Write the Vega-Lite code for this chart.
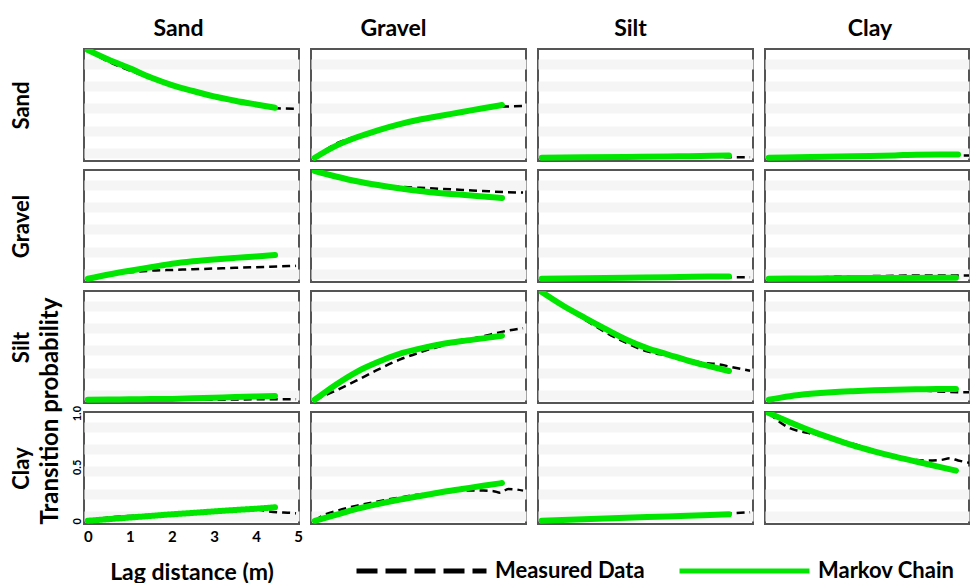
{
"$schema":"https://vega.github.io/schema/vega-lite/v6.json",
"background":"white",
"padding":{"left":9,"top":17,"right":0,"bottom":0},
"bounds":"flush",
"columns":4,
"spacing":{"row":9,"column":12},
"resolve":{"scale":{"x":"independent","y":"independent"}},
"config":{
 "font":"Lato",
 "view":{"stroke":"#555555","strokeWidth":2},
 "axis":{"labelFont":"Lato","titleFont":"Lato","titleFontWeight":"bold","titleFontSize":22,"titleColor":"#000000","labelColor":"#000000","labelFontWeight":"bold"},
 "title":{"font":"Lato","fontSize":23,"fontWeight":"bold","color":"#000000","anchor":"middle","frame":"group","offset":8}
},
"concat":[
{"width":215,"height":112,"title":{"text":"Sand","dx":-13},
 "encoding":{"x":{"field":"x","type":"quantitative","scale":{"domain":[-0.09,5.02],"nice":false,"zero":false},"axis":null},
  "y":{"field":"p","type":"quantitative","scale":{"domain":[-0.03,1.01],"nice":false,"zero":false},"axis":{"values":[0.045,0.25,0.46,0.665,0.87],"grid":true,"gridColor":"#f5f5f5","gridWidth":10,"labels":false,"ticks":false,"domain":false,"title":"Sand","titlePadding":51}}},
 "layer":[
  {"data":{"values":[{"x":0,"p":1},{"x":0.5,"p":0.89},{"x":1,"p":0.81},{"x":1.5,"p":0.735},{"x":2,"p":0.67},{"x":2.5,"p":0.62},{"x":3,"p":0.57},{"x":3.5,"p":0.53},{"x":4,"p":0.49},{"x":4.5,"p":0.46},{"x":4.95,"p":0.456}]},
   "mark":{"type":"line","color":"#000000","strokeWidth":2.5,"strokeDash":[8,5],"clip":true,"interpolate":"monotone"}},
  {"data":{"values":[{"x":0,"p":1},{"x":0.5,"p":0.91},{"x":1,"p":0.83},{"x":1.5,"p":0.745},{"x":2,"p":0.675},{"x":2.5,"p":0.62},{"x":3,"p":0.57},{"x":3.5,"p":0.53},{"x":4,"p":0.495},{"x":4.45,"p":0.465}]},
   "mark":{"type":"line","color":"#00e600","strokeWidth":6,"strokeCap":"round","clip":true,"interpolate":"monotone"}}
 ]},
{"width":215,"height":112,"title":{"text":"Gravel","dx":-25},
 "encoding":{"x":{"field":"x","type":"quantitative","scale":{"domain":[-0.09,5.02],"nice":false,"zero":false},"axis":null},
  "y":{"field":"p","type":"quantitative","scale":{"domain":[-0.03,1.01],"nice":false,"zero":false},"axis":{"values":[0.045,0.25,0.46,0.665,0.87],"grid":true,"gridColor":"#f5f5f5","gridWidth":10,"labels":false,"ticks":false,"domain":false,"title":null}}},
 "layer":[
  {"data":{"values":[{"x":0,"p":0},{"x":0.5,"p":0.13},{"x":1,"p":0.2},{"x":1.5,"p":0.26},{"x":2,"p":0.31},{"x":2.5,"p":0.355},{"x":3,"p":0.39},{"x":3.5,"p":0.425},{"x":4,"p":0.455},{"x":4.5,"p":0.475},{"x":4.95,"p":0.48}]},
   "mark":{"type":"line","color":"#000000","strokeWidth":2.5,"strokeDash":[8,5],"clip":true,"interpolate":"monotone"}},
  {"data":{"values":[{"x":0,"p":0},{"x":0.5,"p":0.11},{"x":1,"p":0.19},{"x":1.5,"p":0.255},{"x":2,"p":0.31},{"x":2.5,"p":0.355},{"x":3,"p":0.39},{"x":3.5,"p":0.425},{"x":4,"p":0.46},{"x":4.45,"p":0.49}]},
   "mark":{"type":"line","color":"#00e600","strokeWidth":6,"strokeCap":"round","clip":true,"interpolate":"monotone"}}
 ]},
{"width":215,"height":112,"title":{"text":"Silt","dx":-15},
 "encoding":{"x":{"field":"x","type":"quantitative","scale":{"domain":[-0.09,5.02],"nice":false,"zero":false},"axis":null},
  "y":{"field":"p","type":"quantitative","scale":{"domain":[-0.03,1.01],"nice":false,"zero":false},"axis":{"values":[0.045,0.25,0.46,0.665,0.87],"grid":true,"gridColor":"#f5f5f5","gridWidth":10,"labels":false,"ticks":false,"domain":false,"title":null}}},
 "layer":[
  {"data":{"values":[{"x":0,"p":0},{"x":1,"p":0.004},{"x":2,"p":0.008},{"x":3,"p":0.01},{"x":4,"p":0.012},{"x":4.5,"p":0.004},{"x":4.95,"p":0.004}]},
   "mark":{"type":"line","color":"#000000","strokeWidth":2.5,"strokeDash":[8,5],"clip":true,"interpolate":"monotone"}},
  {"data":{"values":[{"x":0,"p":0},{"x":1,"p":0.004},{"x":2,"p":0.008},{"x":3,"p":0.012},{"x":3.5,"p":0.015},{"x":4.45,"p":0.02}]},
   "mark":{"type":"line","color":"#00e600","strokeWidth":6,"strokeCap":"round","clip":true,"interpolate":"monotone"}}
 ]},
{"width":204,"height":112,"title":{"text":"Clay","dx":3},
 "encoding":{"x":{"field":"x","type":"quantitative","scale":{"domain":[-0.09,4.76],"nice":false,"zero":false},"axis":null},
  "y":{"field":"p","type":"quantitative","scale":{"domain":[-0.03,1.01],"nice":false,"zero":false},"axis":{"values":[0.045,0.25,0.46,0.665,0.87],"grid":true,"gridColor":"#f5f5f5","gridWidth":10,"labels":false,"ticks":false,"domain":false,"title":null}}},
 "layer":[
  {"data":{"values":[{"x":0,"p":0},{"x":1,"p":0.008},{"x":2,"p":0.015},{"x":3,"p":0.022},{"x":4,"p":0.028},{"x":4.5,"p":0.022},{"x":5,"p":0.022}]},
   "mark":{"type":"line","color":"#000000","strokeWidth":2.5,"strokeDash":[8,5],"clip":true,"interpolate":"monotone"}},
  {"data":{"values":[{"x":0,"p":0},{"x":1,"p":0.008},{"x":2,"p":0.015},{"x":3,"p":0.022},{"x":3.5,"p":0.028},{"x":4.5,"p":0.03}]},
   "mark":{"type":"line","color":"#00e600","strokeWidth":6,"strokeCap":"round","clip":true,"interpolate":"monotone"}}
 ]},
{"width":215,"height":112,
 "encoding":{"x":{"field":"x","type":"quantitative","scale":{"domain":[-0.09,5.02],"nice":false,"zero":false},"axis":null},
  "y":{"field":"p","type":"quantitative","scale":{"domain":[-0.03,1.01],"nice":false,"zero":false},"axis":{"values":[0.045,0.25,0.46,0.665,0.87],"grid":true,"gridColor":"#f5f5f5","gridWidth":10,"labels":false,"ticks":false,"domain":false,"title":"Gravel","titlePadding":51}}},
 "layer":[
  {"data":{"values":[{"x":0,"p":0},{"x":0.5,"p":0.035},{"x":1,"p":0.06},{"x":1.5,"p":0.075},{"x":2,"p":0.082},{"x":2.5,"p":0.088},{"x":3,"p":0.095},{"x":3.5,"p":0.102},{"x":4,"p":0.108},{"x":4.5,"p":0.114},{"x":4.95,"p":0.12}]},
   "mark":{"type":"line","color":"#000000","strokeWidth":2.5,"strokeDash":[8,5],"clip":true,"interpolate":"monotone"}},
  {"data":{"values":[{"x":0,"p":0},{"x":0.5,"p":0.04},{"x":1,"p":0.075},{"x":1.5,"p":0.107},{"x":2,"p":0.14},{"x":2.5,"p":0.163},{"x":3,"p":0.18},{"x":3.5,"p":0.194},{"x":4,"p":0.207},{"x":4.45,"p":0.22}]},
   "mark":{"type":"line","color":"#00e600","strokeWidth":6,"strokeCap":"round","clip":true,"interpolate":"monotone"}}
 ]},
{"width":215,"height":112,
 "encoding":{"x":{"field":"x","type":"quantitative","scale":{"domain":[-0.09,5.02],"nice":false,"zero":false},"axis":null},
  "y":{"field":"p","type":"quantitative","scale":{"domain":[-0.03,1.01],"nice":false,"zero":false},"axis":{"values":[0.045,0.25,0.46,0.665,0.87],"grid":true,"gridColor":"#f5f5f5","gridWidth":10,"labels":false,"ticks":false,"domain":false,"title":null}}},
 "layer":[
  {"data":{"values":[{"x":0,"p":1},{"x":0.5,"p":0.95},{"x":1,"p":0.9},{"x":1.5,"p":0.87},{"x":2,"p":0.855},{"x":2.5,"p":0.845},{"x":3,"p":0.835},{"x":3.5,"p":0.825},{"x":4,"p":0.815},{"x":4.5,"p":0.805},{"x":4.95,"p":0.8}]},
   "mark":{"type":"line","color":"#000000","strokeWidth":2.5,"strokeDash":[8,5],"clip":true,"interpolate":"monotone"}},
  {"data":{"values":[{"x":0,"p":1},{"x":0.5,"p":0.95},{"x":1,"p":0.905},{"x":1.5,"p":0.87},{"x":2,"p":0.84},{"x":2.5,"p":0.815},{"x":3,"p":0.795},{"x":3.5,"p":0.78},{"x":4,"p":0.765},{"x":4.45,"p":0.75}]},
   "mark":{"type":"line","color":"#00e600","strokeWidth":6,"strokeCap":"round","clip":true,"interpolate":"monotone"}}
 ]},
{"width":215,"height":112,
 "encoding":{"x":{"field":"x","type":"quantitative","scale":{"domain":[-0.09,5.02],"nice":false,"zero":false},"axis":null},
  "y":{"field":"p","type":"quantitative","scale":{"domain":[-0.03,1.01],"nice":false,"zero":false},"axis":{"values":[0.045,0.25,0.46,0.665,0.87],"grid":true,"gridColor":"#f5f5f5","gridWidth":10,"labels":false,"ticks":false,"domain":false,"title":null}}},
 "layer":[
  {"data":{"values":[{"x":0,"p":0},{"x":1,"p":0.005},{"x":2,"p":0.01},{"x":3,"p":0.015},{"x":4,"p":0.018},{"x":4.5,"p":0.015},{"x":4.95,"p":0.015}]},
   "mark":{"type":"line","color":"#000000","strokeWidth":2.5,"strokeDash":[8,5],"clip":true,"interpolate":"monotone"}},
  {"data":{"values":[{"x":0,"p":0},{"x":1,"p":0.005},{"x":2,"p":0.01},{"x":3,"p":0.015},{"x":4,"p":0.02},{"x":4.45,"p":0.022}]},
   "mark":{"type":"line","color":"#00e600","strokeWidth":6,"strokeCap":"round","clip":true,"interpolate":"monotone"}}
 ]},
{"width":204,"height":112,
 "encoding":{"x":{"field":"x","type":"quantitative","scale":{"domain":[-0.09,4.76],"nice":false,"zero":false},"axis":null},
  "y":{"field":"p","type":"quantitative","scale":{"domain":[-0.03,1.01],"nice":false,"zero":false},"axis":{"values":[0.045,0.25,0.46,0.665,0.87],"grid":true,"gridColor":"#f5f5f5","gridWidth":10,"labels":false,"ticks":false,"domain":false,"title":null}}},
 "layer":[
  {"data":{"values":[{"x":0,"p":0},{"x":1,"p":0.008},{"x":1.6,"p":0.02},{"x":2.5,"p":0.025},{"x":3.5,"p":0.03},{"x":4.5,"p":0.03},{"x":5,"p":0.03}]},
   "mark":{"type":"line","color":"#000000","strokeWidth":2.5,"strokeDash":[8,5],"clip":true,"interpolate":"monotone"}},
  {"data":{"values":[{"x":0,"p":0},{"x":1,"p":0.003},{"x":2,"p":0.006},{"x":3,"p":0.008},{"x":4.45,"p":0.01}]},
   "mark":{"type":"line","color":"#00e600","strokeWidth":6,"strokeCap":"round","clip":true,"interpolate":"monotone"}}
 ]},
{"width":215,"height":112,
 "encoding":{"x":{"field":"x","type":"quantitative","scale":{"domain":[-0.09,5.02],"nice":false,"zero":false},"axis":null},
  "y":{"field":"p","type":"quantitative","scale":{"domain":[-0.03,1.01],"nice":false,"zero":false},"axis":{"values":[0.045,0.25,0.46,0.665,0.87],"grid":true,"gridColor":"#f5f5f5","gridWidth":10,"labels":false,"ticks":false,"domain":false,"title":"Silt","titlePadding":51}}},
 "layer":[
  {"data":{"values":[{"x":0,"p":0},{"x":0.5,"p":0.012},{"x":1,"p":0.015},{"x":1.5,"p":0.015},{"x":2,"p":0.015},{"x":2.3,"p":0.013},{"x":2.6,"p":0.002},{"x":3,"p":0},{"x":3.5,"p":0.002},{"x":4,"p":0.004},{"x":4.5,"p":0.004},{"x":4.95,"p":0.004}]},
   "mark":{"type":"line","color":"#000000","strokeWidth":2.5,"strokeDash":[8,5],"clip":true,"interpolate":"monotone"}},
  {"data":{"values":[{"x":0,"p":0},{"x":0.5,"p":0.002},{"x":1,"p":0.004},{"x":1.5,"p":0.006},{"x":2,"p":0.008},{"x":2.5,"p":0.013},{"x":3,"p":0.019},{"x":3.5,"p":0.025},{"x":4,"p":0.03},{"x":4.45,"p":0.035}]},
   "mark":{"type":"line","color":"#00e600","strokeWidth":6,"strokeCap":"round","clip":true,"interpolate":"monotone"}}
 ]},
{"width":215,"height":112,
 "encoding":{"x":{"field":"x","type":"quantitative","scale":{"domain":[-0.09,5.02],"nice":false,"zero":false},"axis":null},
  "y":{"field":"p","type":"quantitative","scale":{"domain":[-0.03,1.01],"nice":false,"zero":false},"axis":{"values":[0.045,0.25,0.46,0.665,0.87],"grid":true,"gridColor":"#f5f5f5","gridWidth":10,"labels":false,"ticks":false,"domain":false,"title":null}}},
 "layer":[
  {"data":{"values":[{"x":0,"p":0},{"x":0.5,"p":0.085},{"x":1,"p":0.18},{"x":1.5,"p":0.28},{"x":2,"p":0.37},{"x":2.5,"p":0.44},{"x":3,"p":0.5},{"x":3.5,"p":0.545},{"x":4,"p":0.59},{"x":4.5,"p":0.635},{"x":4.95,"p":0.665}]},
   "mark":{"type":"line","color":"#000000","strokeWidth":2.5,"strokeDash":[8,5],"clip":true,"interpolate":"monotone"}},
  {"data":{"values":[{"x":0,"p":0},{"x":0.5,"p":0.14},{"x":1,"p":0.26},{"x":1.5,"p":0.35},{"x":2,"p":0.425},{"x":2.5,"p":0.475},{"x":3,"p":0.515},{"x":3.5,"p":0.545},{"x":4,"p":0.57},{"x":4.45,"p":0.595}]},
   "mark":{"type":"line","color":"#00e600","strokeWidth":6,"strokeCap":"round","clip":true,"interpolate":"monotone"}}
 ]},
{"width":215,"height":112,
 "encoding":{"x":{"field":"x","type":"quantitative","scale":{"domain":[-0.09,5.02],"nice":false,"zero":false},"axis":null},
  "y":{"field":"p","type":"quantitative","scale":{"domain":[-0.03,1.01],"nice":false,"zero":false},"axis":{"values":[0.045,0.25,0.46,0.665,0.87],"grid":true,"gridColor":"#f5f5f5","gridWidth":10,"labels":false,"ticks":false,"domain":false,"title":null}}},
 "layer":[
  {"data":{"values":[{"x":0,"p":1},{"x":0.5,"p":0.87},{"x":1,"p":0.75},{"x":1.5,"p":0.63},{"x":2,"p":0.53},{"x":2.5,"p":0.45},{"x":3,"p":0.41},{"x":3.5,"p":0.37},{"x":3.8,"p":0.345},{"x":4.2,"p":0.33},{"x":4.5,"p":0.305},{"x":4.95,"p":0.27}]},
   "mark":{"type":"line","color":"#000000","strokeWidth":2.5,"strokeDash":[8,5],"clip":true,"interpolate":"monotone"}},
  {"data":{"values":[{"x":0,"p":1},{"x":0.5,"p":0.875},{"x":1,"p":0.765},{"x":1.5,"p":0.66},{"x":2,"p":0.56},{"x":2.5,"p":0.48},{"x":3,"p":0.42},{"x":3.5,"p":0.36},{"x":4,"p":0.31},{"x":4.45,"p":0.267}]},
   "mark":{"type":"line","color":"#00e600","strokeWidth":6,"strokeCap":"round","clip":true,"interpolate":"monotone"}}
 ]},
{"width":204,"height":112,
 "encoding":{"x":{"field":"x","type":"quantitative","scale":{"domain":[-0.09,4.76],"nice":false,"zero":false},"axis":null},
  "y":{"field":"p","type":"quantitative","scale":{"domain":[-0.03,1.01],"nice":false,"zero":false},"axis":{"values":[0.045,0.25,0.46,0.665,0.87],"grid":true,"gridColor":"#f5f5f5","gridWidth":10,"labels":false,"ticks":false,"domain":false,"title":null}}},
 "layer":[
  {"data":{"values":[{"x":0,"p":0},{"x":0.5,"p":0.03},{"x":1,"p":0.05},{"x":1.5,"p":0.065},{"x":2,"p":0.077},{"x":2.5,"p":0.085},{"x":3,"p":0.09},{"x":3.5,"p":0.09},{"x":3.9,"p":0.08},{"x":4.3,"p":0.072},{"x":4.6,"p":0.07},{"x":5,"p":0.07}]},
   "mark":{"type":"line","color":"#000000","strokeWidth":2.5,"strokeDash":[8,5],"clip":true,"interpolate":"monotone"}},
  {"data":{"values":[{"x":0,"p":0},{"x":0.5,"p":0.033},{"x":1,"p":0.055},{"x":1.5,"p":0.07},{"x":2,"p":0.08},{"x":2.5,"p":0.088},{"x":3,"p":0.094},{"x":3.5,"p":0.097},{"x":4,"p":0.099},{"x":4.45,"p":0.1}]},
   "mark":{"type":"line","color":"#00e600","strokeWidth":6,"strokeCap":"round","clip":true,"interpolate":"monotone"}}
 ]},
{"width":215,"height":112,
 "resolve":{"axis":{"y":"independent"}},
 "layer":[
  {"data":{"values":[{"x":0,"p":0},{"x":0.5,"p":0.03},{"x":1,"p":0.045},{"x":1.5,"p":0.055},{"x":2,"p":0.062},{"x":2.5,"p":0.073},{"x":3,"p":0.087},{"x":3.5,"p":0.1},{"x":4,"p":0.105},{"x":4.25,"p":0.09},{"x":4.5,"p":0.08},{"x":4.75,"p":0.075},{"x":4.95,"p":0.07}]},
   "mark":{"type":"line","color":"#000000","strokeWidth":2.5,"strokeDash":[8,5],"clip":true,"interpolate":"monotone"},
   "encoding":{
    "x":{"field":"x","type":"quantitative","scale":{"domain":[-0.09,5.02],"nice":false,"zero":false},"axis":{"values":[0,1,2,3,4,5],"grid":false,"ticks":false,"domain":false,"labelFontSize":15,"labelPadding":5,"labelFlush":false,"labelOverlap":false,"title":"Lag distance (m)","titleFontSize":23,"titlePadding":17}},
    "y":{"field":"p","type":"quantitative","scale":{"domain":[-0.03,1.01],"nice":false,"zero":false},"axis":{"values":[0,0.045,0.25,0.46,0.5,0.665,0.87,1],"grid":true,"gridColor":"#f5f5f5","gridWidth":10,"gridOpacity":{"condition":{"test":"datum.value === 0 || datum.value === 0.5 || datum.value === 1","value":0},"value":1},"labels":true,"labelExpr":"datum.value === 1 ? '1.0' : datum.value === 0.5 ? '0.5' : datum.value === 0 ? '0' : ''","labelAngle":-90,"labelFontSize":11,"labelPadding":2,"labelOverlap":false,"labelFlush":false,"ticks":false,"domain":false,"title":"Transition probability","titleFontSize":24,"titleAnchor":"start","titlePadding":9}},
    "color":{"datum":"Measured Data","scale":{"domain":["Measured Data","Markov Chain"],"range":["#000000","#00e600"]},"legend":{"title":null,"orient":"none","legendX":270,"legendY":512,"direction":"horizontal","symbolType":"stroke","symbolSize":16900,"symbolStrokeWidth":5,"clipHeight":20,"labelFont":"Lato","labelFontSize":22,"labelFontWeight":"bold","labelColor":"#000000","labelOffset":6,"columnPadding":32,"padding":0}},
    "strokeDash":{"datum":"Measured Data","condition":{"test":"true","value":[8,5]},"scale":{"domain":["Measured Data","Markov Chain"],"range":[[21,8],[1,0]]},"legend":{"title":null,"orient":"none","legendX":270,"legendY":512,"direction":"horizontal","symbolType":"stroke","symbolSize":16900,"symbolStrokeWidth":5,"clipHeight":20,"labelFont":"Lato","labelFontSize":22,"labelFontWeight":"bold","labelColor":"#000000","labelOffset":6,"columnPadding":32,"padding":0}}
   }},
  {"data":{"values":[{"x":0,"p":0},{"x":0.5,"p":0.015},{"x":1,"p":0.03},{"x":1.5,"p":0.045},{"x":2,"p":0.06},{"x":2.5,"p":0.073},{"x":3,"p":0.087},{"x":3.5,"p":0.1},{"x":4,"p":0.112},{"x":4.45,"p":0.125}]},
   "mark":{"type":"line","color":"#00e600","strokeWidth":6,"strokeCap":"round","clip":true,"interpolate":"monotone"},
   "encoding":{
    "x":{"field":"x","type":"quantitative","scale":{"domain":[-0.09,5.02],"nice":false,"zero":false},"axis":{"values":[0,1,2,3,4,5],"grid":false,"ticks":false,"domain":false,"labelFontSize":15,"labelPadding":5,"labelFlush":false,"labelOverlap":false,"title":"Lag distance (m)","titleFontSize":23,"titlePadding":17}},
    "y":{"field":"p","type":"quantitative","axis":{"orient":"left","grid":false,"labels":false,"ticks":false,"domain":false,"title":"Clay","titlePadding":51}},
    "color":{"datum":"Markov Chain","scale":{"domain":["Measured Data","Markov Chain"],"range":["#000000","#00e600"]},"legend":{"title":null,"orient":"none","legendX":270,"legendY":512,"direction":"horizontal","symbolType":"stroke","symbolSize":16900,"symbolStrokeWidth":5,"clipHeight":20,"labelFont":"Lato","labelFontSize":22,"labelFontWeight":"bold","labelColor":"#000000","labelOffset":6,"columnPadding":32,"padding":0}},
    "strokeDash":{"datum":"Markov Chain","scale":{"domain":["Measured Data","Markov Chain"],"range":[[21,8],[1,0]]},"legend":{"title":null,"orient":"none","legendX":270,"legendY":512,"direction":"horizontal","symbolType":"stroke","symbolSize":16900,"symbolStrokeWidth":5,"clipHeight":20,"labelFont":"Lato","labelFontSize":22,"labelFontWeight":"bold","labelColor":"#000000","labelOffset":6,"columnPadding":32,"padding":0}}
   }}
 ]},
{"width":215,"height":112,
 "encoding":{"x":{"field":"x","type":"quantitative","scale":{"domain":[-0.09,5.02],"nice":false,"zero":false},"axis":null},
  "y":{"field":"p","type":"quantitative","scale":{"domain":[-0.03,1.01],"nice":false,"zero":false},"axis":{"values":[0.045,0.25,0.46,0.665,0.87],"grid":true,"gridColor":"#f5f5f5","gridWidth":10,"labels":false,"ticks":false,"domain":false,"title":null}}},
 "layer":[
  {"data":{"values":[{"x":0,"p":0},{"x":0.25,"p":0.06},{"x":0.5,"p":0.09},{"x":1,"p":0.14},{"x":1.5,"p":0.18},{"x":2,"p":0.215},{"x":2.5,"p":0.245},{"x":3,"p":0.265},{"x":3.5,"p":0.28},{"x":4,"p":0.28},{"x":4.25,"p":0.275},{"x":4.4,"p":0.26},{"x":4.6,"p":0.295},{"x":4.8,"p":0.29},{"x":4.95,"p":0.28}]},
   "mark":{"type":"line","color":"#000000","strokeWidth":2.5,"strokeDash":[8,5],"clip":true,"interpolate":"monotone"}},
  {"data":{"values":[{"x":0,"p":0},{"x":0.5,"p":0.055},{"x":1,"p":0.11},{"x":1.5,"p":0.155},{"x":2,"p":0.195},{"x":2.5,"p":0.23},{"x":3,"p":0.265},{"x":3.5,"p":0.295},{"x":4,"p":0.325},{"x":4.45,"p":0.35}]},
   "mark":{"type":"line","color":"#00e600","strokeWidth":6,"strokeCap":"round","clip":true,"interpolate":"monotone"}}
 ]},
{"width":215,"height":112,
 "encoding":{"x":{"field":"x","type":"quantitative","scale":{"domain":[-0.09,5.02],"nice":false,"zero":false},"axis":null},
  "y":{"field":"p","type":"quantitative","scale":{"domain":[-0.03,1.01],"nice":false,"zero":false},"axis":{"values":[0.045,0.25,0.46,0.665,0.87],"grid":true,"gridColor":"#f5f5f5","gridWidth":10,"labels":false,"ticks":false,"domain":false,"title":null}}},
 "layer":[
  {"data":{"values":[{"x":0,"p":0},{"x":1,"p":0.015},{"x":2,"p":0.028},{"x":3,"p":0.04},{"x":4,"p":0.055},{"x":4.5,"p":0.07},{"x":4.95,"p":0.08}]},
   "mark":{"type":"line","color":"#000000","strokeWidth":2.5,"strokeDash":[8,5],"clip":true,"interpolate":"monotone"}},
  {"data":{"values":[{"x":0,"p":0},{"x":1,"p":0.015},{"x":2,"p":0.028},{"x":3,"p":0.04},{"x":4,"p":0.053},{"x":4.45,"p":0.06}]},
   "mark":{"type":"line","color":"#00e600","strokeWidth":6,"strokeCap":"round","clip":true,"interpolate":"monotone"}}
 ]},
{"width":204,"height":112,
 "encoding":{"x":{"field":"x","type":"quantitative","scale":{"domain":[-0.09,4.76],"nice":false,"zero":false},"axis":null},
  "y":{"field":"p","type":"quantitative","scale":{"domain":[-0.03,1.01],"nice":false,"zero":false},"axis":{"values":[0.045,0.25,0.46,0.665,0.87],"grid":true,"gridColor":"#f5f5f5","gridWidth":10,"labels":false,"ticks":false,"domain":false,"title":null}}},
 "layer":[
  {"data":{"values":[{"x":0,"p":1},{"x":0.25,"p":0.92},{"x":0.5,"p":0.86},{"x":0.75,"p":0.83},{"x":1,"p":0.81},{"x":1.5,"p":0.77},{"x":2,"p":0.715},{"x":2.5,"p":0.655},{"x":3,"p":0.6},{"x":3.5,"p":0.565},{"x":3.8,"p":0.56},{"x":4.1,"p":0.565},{"x":4.3,"p":0.58},{"x":4.5,"p":0.56},{"x":4.75,"p":0.54},{"x":5,"p":0.53}]},
   "mark":{"type":"line","color":"#000000","strokeWidth":2.5,"strokeDash":[8,5],"clip":true,"interpolate":"monotone"}},
  {"data":{"values":[{"x":0,"p":1},{"x":0.5,"p":0.915},{"x":1,"p":0.835},{"x":1.5,"p":0.765},{"x":2,"p":0.7},{"x":2.5,"p":0.645},{"x":3,"p":0.595},{"x":3.5,"p":0.55},{"x":4,"p":0.505},{"x":4.45,"p":0.465}]},
   "mark":{"type":"line","color":"#00e600","strokeWidth":6,"strokeCap":"round","clip":true,"interpolate":"monotone"}}
 ]}
]
}
